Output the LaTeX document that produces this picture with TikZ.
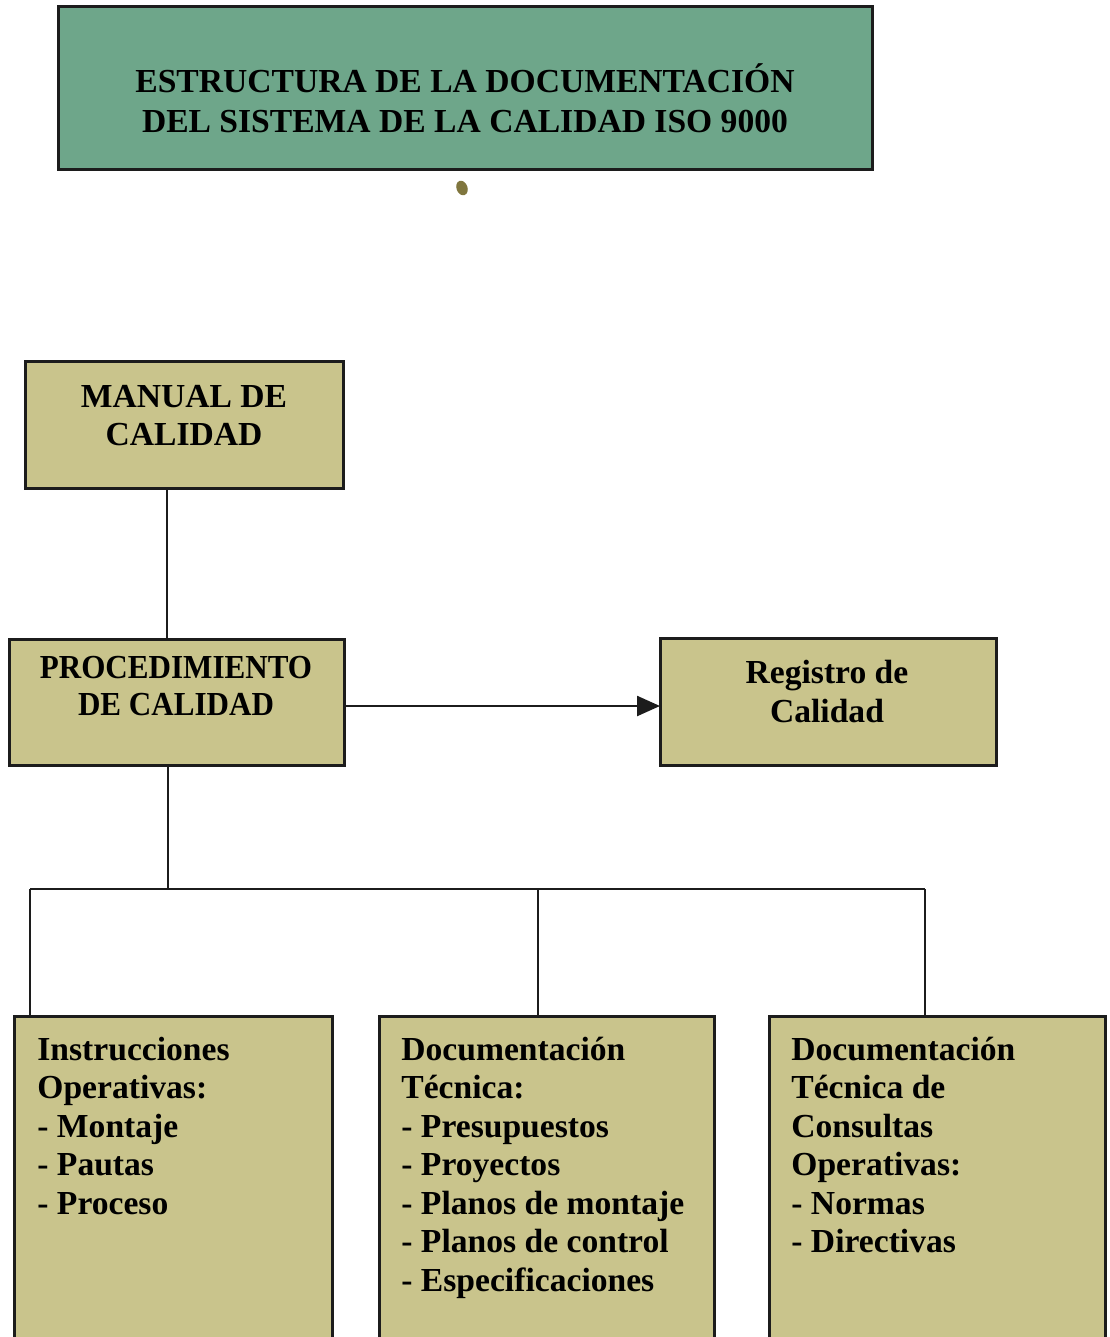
\documentclass[tikz,border=0pt]{standalone}
\usepackage{fontspec}
\setmainfont{Liberation Serif}
\usetikzlibrary{arrows.meta}
\definecolor{titlegreen}{RGB}{110,166,138}
\definecolor{boxkhaki}{RGB}{201,196,140}
\definecolor{edge}{RGB}{28,28,28}
\definecolor{speck}{RGB}{128,118,62}

\begin{document}
\begin{tikzpicture}[x=0.5pt,y=-0.5pt,
  frame/.style={draw=edge, line width=1.5pt, inner sep=0pt, outer sep=0pt},
  titlebox/.style={frame, fill=titlegreen},
  docbox/.style={frame, fill=boxkhaki},
  capt/.style={font=\bfseries\fontsize{16.8}{19}\selectfont, align=center, inner sep=0pt},
  listtext/.style={font=\bfseries\fontsize{16.8}{19.25}\selectfont, align=left, inner sep=0pt, anchor=north west},
  link/.style={draw=edge, line width=1.2pt},
]
\useasboundingbox (0,0) rectangle (1109,1337);
\clip (0,0) rectangle (1109,1337);

% title banner
\node[titlebox, minimum width=407pt, minimum height=81.5pt] (title) at (465,88.5) {};
\node[capt, font=\bfseries\fontsize{16.8}{20}\selectfont] (titletext) at (465,98)
  {ESTRUCTURA DE LA DOCUMENTACIÓN\\DEL SISTEMA DE LA CALIDAD ISO 9000};
\fill[speck, rotate around={20:(462,188)}] (462,188) ellipse (5.5 and 7.5);

% upper boxes
\node[docbox, minimum width=159pt, minimum height=63.5pt] (manual) at (184,424.5) {};
\node[capt] (manualtext) at (184,416) {MANUAL DE\\CALIDAD};

\node[docbox, minimum width=167.5pt, minimum height=63pt] (proc) at (176.5,702) {};
\node[capt] (proctext) at (176,690)
  {\scalebox{0.925}[1]{\fontsize{16.8}{18}\selectfont\begin{tabular}{@{}c@{}}PROCEDIMIENTO\\[0.5pt]DE CALIDAD\end{tabular}}};

\node[docbox, minimum width=168pt, minimum height=63.5pt] (reg) at (828,701.5) {};
\node[capt, font=\bfseries\fontsize{16.8}{19.5}\selectfont] (regtext) at (827,692) {Registro de\\Calidad};

% lower boxes (run past the bottom edge)
\node[docbox, anchor=north west, minimum width=159pt, minimum height=180pt] (io) at (14,1016) {};
\node[listtext] (iotext) at (37,1024)
  {\rule{0pt}{18pt}Instrucciones\\Operativas:\\- Montaje\\- Pautas\\- Proceso};

\node[docbox, anchor=north west, minimum width=167.5pt, minimum height=180pt] (dt) at (379,1016) {};
\node[listtext] (dttext) at (401,1024)
  {\rule{0pt}{18pt}Documentación\\Técnica:\\- Presupuestos\\- Proyectos\\- Planos de montaje\\- Planos de control\\- Especificaciones};

\node[docbox, anchor=north west, minimum width=168pt, minimum height=180pt] (dc) at (769,1016) {};
\node[listtext] (dctext) at (791,1024)
  {\rule{0pt}{18pt}Documentación\\Técnica de\\Consultas\\Operativas:\\- Normas\\- Directivas};

% connectors
\coordinate (v1) at (167,0);
\draw[link] (manual.south -| v1) -- (proc.north -| v1);

\coordinate (ay) at (0,706);
\draw[link, -{Triangle[length=11.5pt,width=10pt]}] (proc.east |- ay) -- (reg.west |- ay);

\coordinate (b0) at (168,889);
\coordinate (b1) at (30,889);
\coordinate (b2) at (538,889);
\coordinate (b3) at (925,889);
\draw[link] (proc.south -| b0) -- (b0);
\draw[link] (b1) -- (b3);
\draw[link] (b1) -- (b1 |- io.north);
\draw[link] (b2) -- (b2 |- dt.north);
\draw[link] (b3) -- (b3 |- dc.north);
\end{tikzpicture}
\end{document}
